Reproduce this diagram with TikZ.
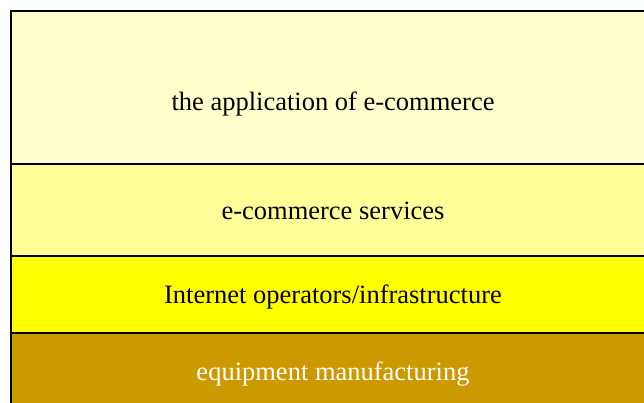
\documentclass[tikz,border=0pt]{standalone}
\usepackage{fontspec}
\setmainfont{Liberation Serif}
\definecolor{layerA}{HTML}{FFFFCC}
\definecolor{layerB}{HTML}{FFFF99}
\definecolor{layerC}{HTML}{FFFF00}
\definecolor{layerD}{HTML}{CC9900}
\begin{document}
\begin{tikzpicture}[x=1pt,y=-1pt,
  layer/.style={draw=black,line width=2pt},
  label/.style={font=\fontsize{26.5}{30}\selectfont,anchor=base,inner sep=0pt}]
\useasboundingbox (0,0) rectangle (644,403);
\clip (0,0) rectangle (644,403);
% stacked layers, top to bottom
\fill[layerA] (11,11) rectangle (660,164);
\fill[layerB] (11,164) rectangle (660,256);
\fill[layerC] (11,256) rectangle (660,333);
\fill[layerD] (11,333) rectangle (660,420);
\draw[layer] (11,420) -- (11,11) -- (660,11);
\draw[layer] (11,164) -- (660,164);
\draw[layer] (11,256) -- (660,256);
\draw[layer] (11,333) -- (660,333);
\node[label] (app) at (333,111) {the application of e-commerce};
\node[label] (svc) at (333,219) {e-commerce services};
\node[label] (inf) at (333,303) {Internet operators/infrastructure};
\node[label,text=white] (equ) at (333,380) {equipment manufacturing};
\end{tikzpicture}
\end{document}
